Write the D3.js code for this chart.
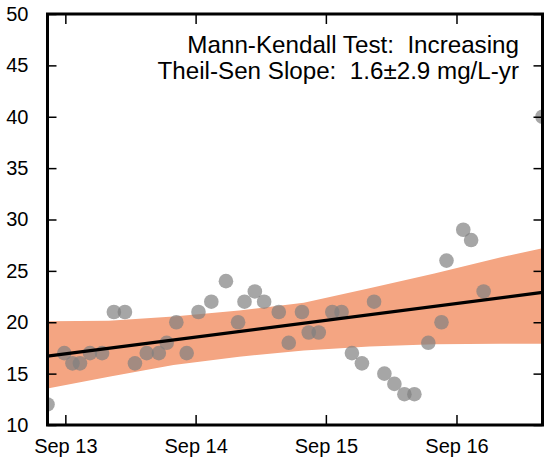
<!DOCTYPE html>
<html>
<head>
<meta charset="utf-8">
<script src="https://cdn.jsdelivr.net/npm/d3@7"></script>
<style>
  body { margin: 0; background: #fff; }
  svg text { font-family: "Liberation Sans", Arial, sans-serif; }
</style>
</head>
<body>
<svg id="chart"></svg>
<script>
const parse = d3.timeParse('%Y-%m-%d');

// sample dates and concentrations (mg/L)
const sampleDates = [
  '2013-07-13', '2013-08-29', '2013-09-21', '2013-10-12', '2013-11-09', '2013-12-13',
  '2014-01-15', '2014-02-15', '2014-03-15', '2014-04-17', '2014-05-21', '2014-06-12',
  '2014-07-09', '2014-08-07', '2014-09-09', '2014-10-15', '2014-11-25', '2014-12-29',
  '2015-01-16', '2015-02-14', '2015-03-12', '2015-04-22', '2015-05-20', '2015-06-26',
  '2015-07-15', '2015-08-12', '2015-09-19', '2015-10-15', '2015-11-13', '2015-12-11',
  '2016-01-14', '2016-02-12', '2016-03-11', '2016-04-08', '2016-05-06', '2016-06-14',
  '2016-07-21', '2016-08-04', '2016-09-20', '2016-10-12', '2016-11-16', '2017-04-30',
];
const sampleValues = [
  12, 17, 16, 16, 17, 17,
  21, 21, 16, 17, 17, 18,
  20, 17, 21, 22, 24, 20,
  22, 23, 22, 21, 18, 21,
  19, 19, 21, 21, 17, 16,
  22, 15, 14, 13, 13, 18,
  20, 26, 29, 28, 23, 40,
];

// Theil-Sen trend line end points
const trendDates = ['2013-07-13', '2017-04-30'];
const trendValues = [16.7, 22.9];

// confidence band
const bandDates = ['2013-07-13', '2014-01-01', '2014-07-01', '2015-01-01', '2015-07-01',
  '2016-01-01', '2016-07-01', '2017-01-01', '2017-04-30'];
const bandUpper = [20.1, 20.15, 20.55, 21.15, 21.9, 23.3, 24.75, 26.3, 27.2];
const bandLower = [13.55, 14.7, 15.85, 16.65, 17.25, 17.65, 17.85, 17.9, 17.9];

const yTicks = [10, 15, 20, 25, 30, 35, 40, 45, 50];
const xTicks = ['2013-09-01', '2014-09-01', '2015-09-01', '2016-09-01'];

const annotation = ['Mann-Kendall Test:  Increasing', 'Theil-Sen Slope:  1.6\u00b12.9 mg/L-yr'];

let width = 544;
let height = 460;
let m = { left: 47.5, right: 542.5, top: 14, bottom: 425 };

let svg = d3.select('#chart').attr('width', width).attr('height', height);

let x = d3.scaleTime()
  .domain([parse(sampleDates[0]), parse(sampleDates[sampleDates.length - 1])])
  .range([m.left, m.right]);
let y = d3.scaleLinear().domain([10, 50]).range([m.bottom, m.top]);

svg.append('clipPath').attr('id', 'clip')
  .append('rect')
  .attr('x', m.left).attr('y', m.top)
  .attr('width', m.right - m.left).attr('height', m.bottom - m.top);

let plot = svg.append('g').attr('clip-path', 'url(#clip)');

let band = bandDates.map((d, i) => ({ date: parse(d), lo: bandLower[i], hi: bandUpper[i] }));
plot.append('path')
  .datum(band)
  .attr('fill', '#f4a582')
  .attr('d', d3.area().x((d) => x(d.date)).y0((d) => y(d.lo)).y1((d) => y(d.hi)));

let points = sampleDates.map((d, i) => ({ date: parse(d), value: sampleValues[i] }));
plot.append('g')
  .selectAll('circle')
  .data(points)
  .enter()
  .append('circle')
  .attr('cx', (d) => x(d.date))
  .attr('cy', (d) => y(d.value))
  .attr('r', 7.3)
  .attr('fill', '#808080')
  .attr('fill-opacity', 0.7);

let trend = trendDates.map((d, i) => ({ date: parse(d), value: trendValues[i] }));
plot.append('path')
  .datum(trend)
  .attr('fill', 'none')
  .attr('stroke', 'black')
  .attr('stroke-width', 3.2)
  .attr('d', d3.line().x((d) => x(d.date)).y((d) => y(d.value)));

// axes with inward ticks on all four sides
let fmt = d3.timeFormat('%b %y');
let xt = xTicks.map(parse);

svg.append('g')
  .attr('transform', `translate(0,${m.bottom})`)
  .call(d3.axisBottom(x).tickValues(xt).tickSize(-10).tickPadding(14).tickFormat(fmt))
  .call((g) => g.select('.domain').remove());
svg.append('g')
  .attr('transform', `translate(0,${m.top})`)
  .call(d3.axisTop(x).tickValues(xt).tickSize(-10).tickFormat(''))
  .call((g) => g.select('.domain').remove());
svg.append('g')
  .attr('transform', `translate(${m.left},0)`)
  .call(d3.axisLeft(y).tickValues(yTicks).tickSize(-9).tickPadding(19))
  .call((g) => g.select('.domain').remove());
svg.append('g')
  .attr('transform', `translate(${m.right},0)`)
  .call(d3.axisRight(y).tickValues(yTicks).tickSize(-9).tickFormat(''))
  .call((g) => g.select('.domain').remove());

svg.selectAll('.tick line').attr('stroke', 'black').attr('stroke-width', 1.5);
svg.selectAll('.tick text')
  .attr('fill', 'black')
  .style('font-size', '20px')
  .style('font-family', '"Liberation Sans", Arial, sans-serif');

svg.append('rect')
  .attr('x', m.left).attr('y', m.top)
  .attr('width', m.right - m.left).attr('height', m.bottom - m.top)
  .attr('fill', 'none')
  .attr('stroke', 'black')
  .attr('stroke-width', 3);

svg.append('g')
  .selectAll('text')
  .data(annotation)
  .enter()
  .append('text')
  .attr('x', 519)
  .attr('y', (d, i) => 53 + i * 26)
  .attr('text-anchor', 'end')
  .style('font-size', '24.2px')
  .style('white-space', 'pre')
  .text((d) => d);
</script>
</body>
</html>
